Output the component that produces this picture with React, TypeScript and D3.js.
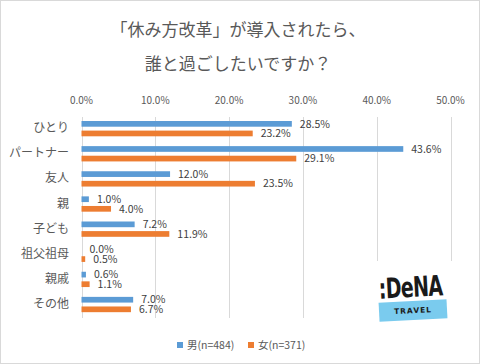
import React, { useEffect, useRef } from 'react';
import * as d3 from 'd3';

const categories = ['ひとり', 'パートナー', '友人', '親', '子ども', '祖父祖母', '親戚', 'その他'];
const male = [28.5, 43.6, 12.0, 1.0, 7.2, 0.0, 0.6, 7.0];
const female = [23.2, 29.1, 23.5, 4.0, 11.9, 0.5, 1.1, 6.7];
const ticks = [0, 10, 20, 30, 40, 50];
const seriesNames = ['男(n=484)', '女(n=371)'];
const colors = ['#5B9BD5', '#ED7D31'];
const titleLines = ['「休み方改革」が導入されたら、', '誰と過ごしたいですか？'];

const W = 480;
const H = 364;
const FONT = '"Noto Sans CJK JP", "Noto Sans", sans-serif';
const TXT = '#595959';

const App: React.FC = () => {
  const svgRef = useRef<SVGSVGElement>(null);

  useEffect(() => {
    if (!svgRef.current) return;
    const svg = d3.select(svgRef.current);
    svg.selectAll('*').remove();

    svg.append('rect')
      .attr('x', 0.5).attr('y', 0.5)
      .attr('width', W - 1).attr('height', H - 1)
      .attr('fill', '#fff').attr('stroke', '#d9d9d9');

    const x = d3.scaleLinear().domain([0, 50]).range([81.5, 450.5]);
    const y = d3.scaleBand().domain(categories).range([117, 318]);

    // title
    svg.selectAll('text.title')
      .data(titleLines)
      .enter()
      .append('text')
      .attr('class', 'title')
      .attr('x', 238)
      .attr('y', (_d, i) => 30 + i * 34)
      .attr('dy', '0.35em')
      .attr('text-anchor', 'middle')
      .attr('font-family', FONT)
      .attr('font-size', 17)
      .attr('fill', TXT)
      .text(d => d);

    // gridlines
    svg.selectAll('line.grid')
      .data(ticks)
      .enter()
      .append('line')
      .attr('x1', d => Math.round(x(d)) + 0.5)
      .attr('x2', d => Math.round(x(d)) + 0.5)
      .attr('y1', 117)
      .attr('y2', 318)
      .attr('stroke', '#d9d9d9');

    // top axis labels
    svg.selectAll('text.tick')
      .data(ticks)
      .enter()
      .append('text')
      .attr('x', d => x(d))
      .attr('y', 100)
      .attr('dy', '0.35em')
      .attr('text-anchor', 'middle')
      .attr('font-family', FONT)
      .attr('font-size', 10)
      .attr('fill', TXT)
      .text(d => d3.format('.1f')(d) + '%');

    // category labels
    svg.selectAll('text.cat')
      .data(categories)
      .enter()
      .append('text')
      .attr('x', 69)
      .attr('y', d => (y(d) || 0) + 11)
      .attr('dy', '0.35em')
      .attr('text-anchor', 'end')
      .attr('font-family', FONT)
      .attr('font-size', 12)
      .attr('fill', TXT)
      .text(d => d);

    const series = [male, female];
    const offsets = [4, 13.6];
    const barH = 5.7;

    series.forEach((vals, si) => {
      const g = svg.append('g');
      g.selectAll('rect')
        .data(vals)
        .enter()
        .append('rect')
        .attr('x', x(0))
        .attr('y', (_d, i) => (y(categories[i]) || 0) + offsets[si])
        .attr('width', d => x(d) - x(0))
        .attr('height', barH)
        .attr('fill', colors[si]);
      g.selectAll('text')
        .data(vals)
        .enter()
        .append('text')
        .attr('x', d => x(d) + 8)
        .attr('y', (_d, i) => (y(categories[i]) || 0) + offsets[si] + barH / 2)
        .attr('dy', '0.35em')
        .attr('font-family', FONT)
        .attr('font-size', 10.5)
        .attr('fill', '#404040')
        .text(d => d.toFixed(1) + '%');
    });

    // logo (white cover + text)
    const logo = svg.append('g');
    logo.append('rect')
      .attr('x', 372).attr('y', 261)
      .attr('width', 82).attr('height', 66)
      .attr('fill', '#fff');
    logo.append('text')
      .attr('x', 0).attr('y', 0)
      .attr('text-anchor', 'middle')
      .attr('font-family', '"DejaVu Sans", sans-serif')
      .attr('font-weight', 'bold')
      .attr('font-size', 28)
      .attr('letter-spacing', -1)
      .attr('fill', '#1a1a1a')
      .attr('transform', 'translate(411 297) rotate(-3) scale(0.68 1)')
      .text(':DeNA');
    const band = logo.append('g').attr('transform', 'rotate(-3 413 310)');
    band.append('rect')
      .attr('x', 379).attr('y', 301)
      .attr('width', 68).attr('height', 19)
      .attr('fill', '#7ACBEE');
    band.append('text')
      .attr('x', 413).attr('y', 310.5)
      .attr('dy', '0.35em')
      .attr('text-anchor', 'middle')
      .attr('font-family', '"DejaVu Sans", sans-serif')
      .attr('font-weight', 'bold')
      .attr('font-size', 7.5)
      .attr('letter-spacing', 1)
      .attr('fill', '#1a1a1a')
      .text('TRAVEL');

    // legend
    const legendX = [177, 248];
    seriesNames.forEach((name, i) => {
      svg.append('rect')
        .attr('x', legendX[i]).attr('y', 342)
        .attr('width', 6).attr('height', 6)
        .attr('fill', colors[i]);
      svg.append('text')
        .attr('x', legendX[i] + 10).attr('y', 345)
        .attr('dy', '0.35em')
        .attr('font-family', FONT)
        .attr('font-size', 10.5)
        .attr('fill', TXT)
        .text(name);
    });
  }, []);

  return (
    <div style={{ width: W, height: H }}>
      <style>{'body{margin:0}'}</style>
      <svg ref={svgRef} width={W} height={H} style={{ display: 'block' }} />
    </div>
  );
};

export default App;
